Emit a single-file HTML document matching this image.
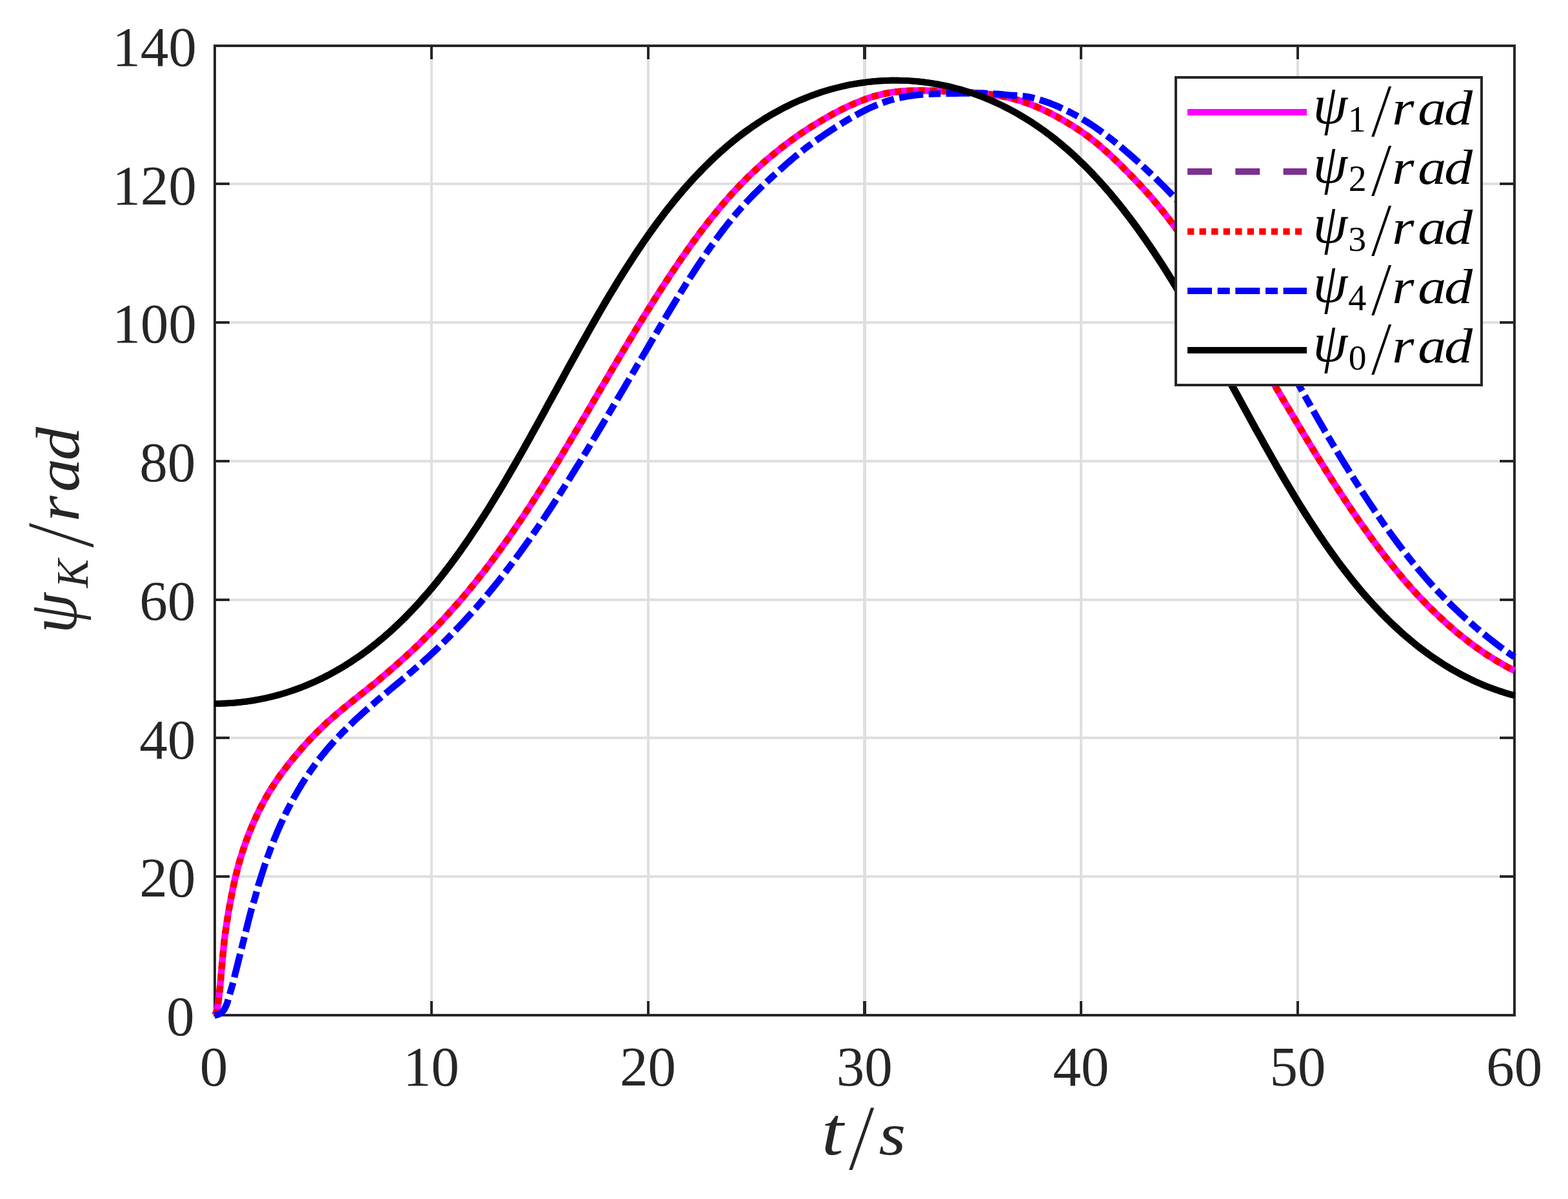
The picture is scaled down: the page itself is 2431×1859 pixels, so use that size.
<!DOCTYPE html>
<html lang="en">
<head>
<meta charset="utf-8">
<title>Heading angle tracking</title>
<style>
html,body{margin:0;padding:0;background:#fff;}
body{width:2431px;height:1859px;overflow:hidden;}
svg{display:block;}
text{white-space:pre;}
.tk{font-family:"Liberation Serif","DejaVu Serif",serif;font-size:87px;fill:#262626;}
.mi{font-family:"Liberation Serif","DejaVu Serif",serif;font-style:italic;}
.mr{font-family:"Liberation Serif","DejaVu Serif",serif;font-style:normal;}
</style>
</head>
<body>
<svg width="2431" height="1859" viewBox="0 0 2431 1859">
<rect x="0" y="0" width="2431" height="1859" fill="#ffffff"/>
<g fill="#dfdfdf" shape-rendering="crispEdges">
<rect x="667" y="93" width="4" height="1458"/>
<rect x="1003" y="93" width="4" height="1458"/>
<rect x="1338" y="93" width="5" height="1458"/>
<rect x="1674" y="93" width="4" height="1458"/>
<rect x="2010" y="93" width="4" height="1458"/>
<rect x="357" y="1357" width="1967" height="4"/>
<rect x="357" y="1142" width="1967" height="4"/>
<rect x="357" y="928" width="1967" height="4"/>
<rect x="357" y="713" width="1967" height="4"/>
<rect x="357" y="498" width="1967" height="4"/>
<rect x="357" y="283" width="1967" height="4"/>
</g>
<g fill="#262626" shape-rendering="crispEdges">
<rect x="331" y="69" width="2019" height="4"/>
<rect x="331" y="1572" width="2019" height="4"/>
<rect x="331" y="69" width="4" height="1507"/>
<rect x="2346" y="69" width="4" height="1507"/>
<rect x="667" y="1552" width="4" height="20"/>
<rect x="667" y="73" width="4" height="19"/>
<rect x="1003" y="1552" width="4" height="20"/>
<rect x="1003" y="73" width="4" height="19"/>
<rect x="1338" y="1552" width="5" height="20"/>
<rect x="1338" y="73" width="5" height="19"/>
<rect x="1674" y="1552" width="4" height="20"/>
<rect x="1674" y="73" width="4" height="19"/>
<rect x="2010" y="1552" width="4" height="20"/>
<rect x="2010" y="73" width="4" height="19"/>
<rect x="335" y="1357" width="21" height="4"/>
<rect x="2325" y="1357" width="21" height="4"/>
<rect x="335" y="1142" width="21" height="4"/>
<rect x="2325" y="1142" width="21" height="4"/>
<rect x="335" y="928" width="21" height="4"/>
<rect x="2325" y="928" width="21" height="4"/>
<rect x="335" y="713" width="21" height="4"/>
<rect x="2325" y="713" width="21" height="4"/>
<rect x="335" y="498" width="21" height="4"/>
<rect x="2325" y="498" width="21" height="4"/>
<rect x="335" y="283" width="21" height="4"/>
<rect x="2325" y="283" width="21" height="4"/>
</g>
<g fill="none" stroke-width="10.4" stroke-linejoin="round" stroke-linecap="butt">
<path stroke="#ff00ff" d="M333.0,1574.0 L333.0,1574.0 L333.1,1573.9 L333.2,1573.9 L333.3,1573.7 L333.5,1573.5 L333.7,1573.3 L333.9,1572.9 L334.1,1572.4 L334.4,1571.8 L334.6,1571.1 L335.0,1570.2 L335.3,1569.1 L335.6,1567.9 L336.0,1566.6 L336.4,1565.1 L336.8,1563.3 L337.3,1561.0 L337.7,1558.2 L338.2,1554.9 L338.7,1551.1 L339.3,1546.9 L339.8,1542.2 L340.4,1537.3 L341.0,1532.0 L341.6,1525.6 L342.2,1518.3 L342.8,1510.7 L343.5,1503.2 L344.2,1495.5 L344.9,1487.7 L345.6,1480.0 L346.4,1472.2 L347.1,1464.6 L347.9,1457.6 L348.7,1451.2 L349.5,1445.1 L350.4,1439.2 L351.2,1433.3 L352.1,1427.5 L353.0,1421.8 L353.9,1416.3 L354.8,1410.8 L355.8,1405.4 L356.7,1400.2 L357.7,1395.1 L358.7,1390.0 L359.7,1384.8 L360.7,1379.4 L361.8,1374.3 L362.9,1369.4 L363.9,1364.6 L365.0,1359.9 L366.2,1355.3 L367.3,1350.8 L368.5,1346.4 L369.6,1342.0 L370.8,1337.7 L372.0,1333.5 L373.2,1329.4 L374.5,1325.4 L375.7,1321.5 L377.0,1317.5 L378.3,1313.7 L379.6,1309.9 L380.9,1306.1 L382.2,1302.5 L383.6,1298.8 L384.9,1295.2 L386.3,1291.7 L387.7,1288.2 L389.1,1284.7 L390.6,1281.2 L392.0,1277.8 L393.5,1274.4 L395.0,1271.1 L396.5,1267.8 L398.0,1264.5 L399.5,1261.3 L401.0,1258.1 L402.6,1254.9 L404.2,1251.8 L405.8,1248.7 L407.4,1245.6 L409.0,1242.6 L410.6,1239.6 L412.3,1236.7 L413.9,1233.8 L415.6,1230.9 L417.3,1228.0 L419.0,1225.2 L420.8,1222.5 L422.5,1219.7 L424.3,1217.0 L426.0,1214.3 L427.8,1211.7 L429.6,1209.0 L431.4,1206.4 L433.3,1203.8 L435.1,1201.2 L437.0,1198.7 L438.9,1196.1 L440.8,1193.6 L442.7,1191.1 L444.6,1188.6 L446.5,1186.1 L448.5,1183.6 L450.5,1181.2 L452.4,1178.7 L454.4,1176.3 L456.4,1173.8 L458.5,1171.4 L460.5,1169.0 L462.6,1166.6 L464.6,1164.2 L466.7,1161.8 L468.8,1159.4 L470.9,1157.0 L473.1,1154.7 L475.2,1152.3 L477.4,1150.0 L479.6,1147.6 L481.7,1145.3 L483.9,1143.0 L486.2,1140.7 L488.4,1138.4 L490.6,1136.1 L492.9,1133.9 L495.2,1131.6 L497.5,1129.4 L499.8,1127.2 L502.1,1125.0 L504.4,1122.8 L506.7,1120.6 L509.1,1118.4 L511.5,1116.3 L513.9,1114.2 L516.3,1112.1 L518.7,1110.0 L521.1,1107.9 L523.5,1105.8 L526.0,1103.8 L528.5,1101.7 L531.0,1099.7 L533.5,1097.6 L536.0,1095.6 L538.5,1093.5 L541.0,1091.5 L543.6,1089.5 L546.2,1087.4 L548.7,1085.4 L551.3,1083.3 L553.9,1081.2 L556.6,1079.1 L559.2,1077.0 L561.9,1074.9 L564.5,1072.8 L567.2,1070.7 L569.9,1068.5 L572.6,1066.3 L575.3,1064.1 L578.1,1061.9 L580.8,1059.7 L583.6,1057.4 L586.3,1055.1 L589.1,1052.8 L591.9,1050.4 L594.7,1048.0 L597.6,1045.6 L600.4,1043.2 L603.3,1040.7 L606.1,1038.3 L609.0,1035.8 L611.9,1033.2 L614.8,1030.7 L617.7,1028.1 L620.7,1025.5 L623.6,1022.8 L626.6,1020.2 L629.6,1017.5 L632.5,1014.7 L635.5,1012.0 L638.6,1009.1 L641.6,1006.3 L644.6,1003.4 L647.7,1000.5 L650.8,997.5 L653.8,994.6 L656.9,991.5 L660.0,988.4 L663.2,985.3 L666.3,982.2 L669.4,978.9 L672.6,975.7 L675.8,972.4 L679.0,969.1 L682.2,965.7 L685.4,962.3 L688.6,958.8 L691.8,955.3 L695.1,951.7 L698.4,948.1 L701.6,944.5 L704.9,940.8 L708.2,937.0 L711.6,933.2 L714.9,929.4 L718.2,925.5 L721.6,921.5 L725.0,917.5 L728.3,913.4 L731.7,909.3 L735.1,905.1 L738.6,900.8 L742.0,896.5 L745.4,892.2 L748.9,887.8 L752.4,883.3 L755.9,878.7 L759.4,874.1 L762.9,869.4 L766.4,864.7 L769.9,859.9 L773.5,855.0 L777.0,850.1 L780.6,845.1 L784.2,840.0 L787.8,834.9 L791.4,829.7 L795.0,824.5 L798.7,819.1 L802.3,813.8 L806.0,808.3 L809.7,802.8 L813.4,797.3 L817.1,791.6 L820.8,786.0 L824.5,780.2 L828.2,774.4 L832.0,768.6 L835.8,762.6 L839.5,756.7 L843.3,750.6 L847.1,744.5 L850.9,738.4 L854.8,732.2 L858.6,726.0 L862.5,719.7 L866.3,713.3 L870.2,706.9 L874.1,700.4 L878.0,693.9 L881.9,687.3 L885.8,680.7 L889.8,674.1 L893.7,667.4 L897.7,660.7 L901.7,653.9 L905.7,647.1 L909.7,640.3 L913.7,633.4 L917.7,626.5 L921.7,619.6 L925.8,612.7 L929.8,605.7 L933.9,598.7 L938.0,591.8 L942.1,584.8 L946.2,577.7 L950.3,570.7 L954.5,563.7 L958.6,556.7 L962.8,549.7 L967.0,542.6 L971.2,535.6 L975.4,528.6 L979.6,521.6 L983.8,514.6 L988.0,507.6 L992.3,500.6 L996.5,493.7 L1000.8,486.8 L1005.1,479.8 L1009.4,473.0 L1013.7,466.1 L1018.0,459.3 L1022.3,452.5 L1026.7,445.7 L1031.0,439.0 L1035.4,432.3 L1039.8,425.7 L1044.2,419.1 L1048.6,412.6 L1053.0,406.1 L1057.4,399.6 L1061.9,393.2 L1066.3,386.9 L1070.8,380.6 L1075.3,374.4 L1079.8,368.3 L1084.3,362.2 L1088.8,356.2 L1093.3,350.3 L1097.8,344.5 L1102.4,338.7 L1107.0,333.0 L1111.5,327.4 L1116.1,321.9 L1120.7,316.5 L1125.3,311.1 L1129.9,305.9 L1134.6,300.7 L1139.2,295.7 L1143.9,290.7 L1148.5,285.9 L1153.2,281.1 L1157.9,276.4 L1162.6,271.8 L1167.3,267.3 L1172.1,262.9 L1176.8,258.5 L1181.6,254.2 L1186.3,250.0 L1191.1,245.9 L1195.9,241.9 L1200.7,237.9 L1205.5,234.0 L1210.3,230.2 L1215.2,226.4 L1220.0,222.7 L1224.9,219.1 L1229.7,215.6 L1234.6,212.1 L1239.5,208.7 L1244.4,205.4 L1249.3,202.1 L1254.3,198.9 L1259.2,195.7 L1264.2,192.7 L1269.1,189.7 L1274.1,186.7 L1279.1,183.8 L1284.1,180.9 L1289.1,178.1 L1294.1,175.4 L1299.2,172.8 L1304.2,170.2 L1309.3,167.7 L1314.3,165.3 L1319.4,162.9 L1324.5,160.7 L1329.6,158.5 L1334.7,156.5 L1339.9,154.5 L1345.0,152.7 L1350.1,150.9 L1355.3,149.3 L1360.5,147.9 L1365.7,146.6 L1370.9,145.4 L1376.1,144.3 L1381.3,143.4 L1386.5,142.7 L1391.8,142.1 L1397.0,141.6 L1402.3,141.2 L1407.6,140.9 L1412.9,140.7 L1418.2,140.5 L1423.5,140.5 L1428.8,140.5 L1434.2,140.5 L1439.5,140.6 L1444.9,140.7 L1450.2,140.8 L1455.6,141.0 L1461.0,141.2 L1466.4,141.4 L1471.8,141.6 L1477.3,141.8 L1482.7,142.1 L1488.2,142.3 L1493.6,142.6 L1499.1,142.9 L1504.6,143.2 L1510.1,143.6 L1515.6,144.1 L1521.1,144.6 L1526.6,145.2 L1532.2,145.8 L1537.7,146.6 L1543.3,147.4 L1548.9,148.3 L1554.5,149.3 L1560.1,150.5 L1565.7,151.8 L1571.3,153.2 L1576.9,154.7 L1582.6,156.5 L1588.2,158.3 L1593.9,160.4 L1599.6,162.6 L1605.3,164.9 L1611.0,167.3 L1616.7,169.9 L1622.4,172.6 L1628.2,175.5 L1633.9,178.4 L1639.7,181.5 L1645.4,184.8 L1651.2,188.1 L1657.0,191.6 L1662.8,195.2 L1668.6,198.9 L1674.4,202.8 L1680.3,206.8 L1686.1,211.0 L1692.0,215.5 L1697.9,220.1 L1703.8,225.0 L1709.6,230.1 L1715.6,235.3 L1721.5,240.7 L1727.4,246.3 L1733.3,252.0 L1739.3,257.8 L1745.2,263.8 L1751.2,269.9 L1757.2,276.0 L1763.2,282.3 L1769.2,288.6 L1775.2,295.2 L1781.3,301.9 L1787.3,308.9 L1793.3,316.1 L1799.4,323.4 L1805.5,331.0 L1811.6,338.8 L1817.7,346.8 L1823.8,355.0 L1829.9,363.4 L1836.0,372.0 L1842.2,380.7 L1848.3,389.6 L1854.5,398.6 L1860.6,407.9 L1866.8,417.2 L1873.0,426.7 L1879.2,436.3 L1885.4,446.1 L1891.7,456.0 L1897.9,466.0 L1904.2,476.1 L1910.4,486.3 L1916.7,496.7 L1923.0,507.1 L1929.3,517.6 L1935.6,528.2 L1941.9,538.8 L1948.2,549.5 L1954.6,560.3 L1960.9,571.0 L1967.3,581.9 L1973.7,592.7 L1980.0,603.6 L1986.4,614.5 L1992.8,625.3 L1999.3,636.2 L2005.7,647.0 L2012.1,657.9 L2018.6,668.7 L2025.0,679.4 L2031.5,690.1 L2038.0,700.7 L2044.5,711.3 L2051.0,721.8 L2057.5,732.2 L2064.0,742.5 L2070.6,752.7 L2077.1,762.9 L2083.7,772.9 L2090.3,782.8 L2096.8,792.6 L2103.4,802.2 L2110.0,811.8 L2116.6,821.1 L2123.3,830.4 L2129.9,839.5 L2136.6,848.5 L2143.2,857.3 L2149.9,865.9 L2156.6,874.4 L2163.3,882.7 L2170.0,890.8 L2176.7,898.8 L2183.4,906.5 L2190.1,914.1 L2196.9,921.5 L2203.6,928.6 L2210.4,935.6 L2217.2,942.5 L2224.0,949.1 L2230.8,955.6 L2237.6,961.9 L2244.4,968.1 L2251.2,974.1 L2258.1,979.9 L2264.9,985.5 L2271.8,991.0 L2278.7,996.3 L2285.5,1001.4 L2292.4,1006.4 L2299.3,1011.2 L2306.3,1015.8 L2313.2,1020.2 L2320.1,1024.5 L2327.1,1028.6 L2334.0,1032.5 L2341.0,1036.3 L2348.0,1039.9"/>
<path stroke="#ff0000" stroke-dasharray="10.2 8.05" d="M333.0,1574.0 L333.0,1574.0 L333.1,1573.9 L333.2,1573.9 L333.3,1573.7 L333.5,1573.5 L333.7,1573.3 L333.9,1572.9 L334.1,1572.4 L334.4,1571.8 L334.6,1571.1 L335.0,1570.2 L335.3,1569.1 L335.6,1567.9 L336.0,1566.6 L336.4,1565.1 L336.8,1563.3 L337.3,1561.0 L337.7,1558.2 L338.2,1554.9 L338.7,1551.1 L339.3,1546.9 L339.8,1542.2 L340.4,1537.3 L341.0,1532.0 L341.6,1525.6 L342.2,1518.3 L342.8,1510.7 L343.5,1503.2 L344.2,1495.5 L344.9,1487.7 L345.6,1480.0 L346.4,1472.2 L347.1,1464.6 L347.9,1457.6 L348.7,1451.2 L349.5,1445.1 L350.4,1439.2 L351.2,1433.3 L352.1,1427.5 L353.0,1421.8 L353.9,1416.3 L354.8,1410.8 L355.8,1405.4 L356.7,1400.2 L357.7,1395.1 L358.7,1390.0 L359.7,1384.8 L360.7,1379.4 L361.8,1374.3 L362.9,1369.4 L363.9,1364.6 L365.0,1359.9 L366.2,1355.3 L367.3,1350.8 L368.5,1346.4 L369.6,1342.0 L370.8,1337.7 L372.0,1333.5 L373.2,1329.4 L374.5,1325.4 L375.7,1321.5 L377.0,1317.5 L378.3,1313.7 L379.6,1309.9 L380.9,1306.1 L382.2,1302.5 L383.6,1298.8 L384.9,1295.2 L386.3,1291.7 L387.7,1288.2 L389.1,1284.7 L390.6,1281.2 L392.0,1277.8 L393.5,1274.4 L395.0,1271.1 L396.5,1267.8 L398.0,1264.5 L399.5,1261.3 L401.0,1258.1 L402.6,1254.9 L404.2,1251.8 L405.8,1248.7 L407.4,1245.6 L409.0,1242.6 L410.6,1239.6 L412.3,1236.7 L413.9,1233.8 L415.6,1230.9 L417.3,1228.0 L419.0,1225.2 L420.8,1222.5 L422.5,1219.7 L424.3,1217.0 L426.0,1214.3 L427.8,1211.7 L429.6,1209.0 L431.4,1206.4 L433.3,1203.8 L435.1,1201.2 L437.0,1198.7 L438.9,1196.1 L440.8,1193.6 L442.7,1191.1 L444.6,1188.6 L446.5,1186.1 L448.5,1183.6 L450.5,1181.2 L452.4,1178.7 L454.4,1176.3 L456.4,1173.8 L458.5,1171.4 L460.5,1169.0 L462.6,1166.6 L464.6,1164.2 L466.7,1161.8 L468.8,1159.4 L470.9,1157.0 L473.1,1154.7 L475.2,1152.3 L477.4,1150.0 L479.6,1147.6 L481.7,1145.3 L483.9,1143.0 L486.2,1140.7 L488.4,1138.4 L490.6,1136.1 L492.9,1133.9 L495.2,1131.6 L497.5,1129.4 L499.8,1127.2 L502.1,1125.0 L504.4,1122.8 L506.7,1120.6 L509.1,1118.4 L511.5,1116.3 L513.9,1114.2 L516.3,1112.1 L518.7,1110.0 L521.1,1107.9 L523.5,1105.8 L526.0,1103.8 L528.5,1101.7 L531.0,1099.7 L533.5,1097.6 L536.0,1095.6 L538.5,1093.5 L541.0,1091.5 L543.6,1089.5 L546.2,1087.4 L548.7,1085.4 L551.3,1083.3 L553.9,1081.2 L556.6,1079.1 L559.2,1077.0 L561.9,1074.9 L564.5,1072.8 L567.2,1070.7 L569.9,1068.5 L572.6,1066.3 L575.3,1064.1 L578.1,1061.9 L580.8,1059.7 L583.6,1057.4 L586.3,1055.1 L589.1,1052.8 L591.9,1050.4 L594.7,1048.0 L597.6,1045.6 L600.4,1043.2 L603.3,1040.7 L606.1,1038.3 L609.0,1035.8 L611.9,1033.2 L614.8,1030.7 L617.7,1028.1 L620.7,1025.5 L623.6,1022.8 L626.6,1020.2 L629.6,1017.5 L632.5,1014.7 L635.5,1012.0 L638.6,1009.1 L641.6,1006.3 L644.6,1003.4 L647.7,1000.5 L650.8,997.5 L653.8,994.6 L656.9,991.5 L660.0,988.4 L663.2,985.3 L666.3,982.2 L669.4,978.9 L672.6,975.7 L675.8,972.4 L679.0,969.1 L682.2,965.7 L685.4,962.3 L688.6,958.8 L691.8,955.3 L695.1,951.7 L698.4,948.1 L701.6,944.5 L704.9,940.8 L708.2,937.0 L711.6,933.2 L714.9,929.4 L718.2,925.5 L721.6,921.5 L725.0,917.5 L728.3,913.4 L731.7,909.3 L735.1,905.1 L738.6,900.8 L742.0,896.5 L745.4,892.2 L748.9,887.8 L752.4,883.3 L755.9,878.7 L759.4,874.1 L762.9,869.4 L766.4,864.7 L769.9,859.9 L773.5,855.0 L777.0,850.1 L780.6,845.1 L784.2,840.0 L787.8,834.9 L791.4,829.7 L795.0,824.5 L798.7,819.1 L802.3,813.8 L806.0,808.3 L809.7,802.8 L813.4,797.3 L817.1,791.6 L820.8,786.0 L824.5,780.2 L828.2,774.4 L832.0,768.6 L835.8,762.6 L839.5,756.7 L843.3,750.6 L847.1,744.5 L850.9,738.4 L854.8,732.2 L858.6,726.0 L862.5,719.7 L866.3,713.3 L870.2,706.9 L874.1,700.4 L878.0,693.9 L881.9,687.3 L885.8,680.7 L889.8,674.1 L893.7,667.4 L897.7,660.7 L901.7,653.9 L905.7,647.1 L909.7,640.3 L913.7,633.4 L917.7,626.5 L921.7,619.6 L925.8,612.7 L929.8,605.7 L933.9,598.7 L938.0,591.8 L942.1,584.8 L946.2,577.7 L950.3,570.7 L954.5,563.7 L958.6,556.7 L962.8,549.7 L967.0,542.6 L971.2,535.6 L975.4,528.6 L979.6,521.6 L983.8,514.6 L988.0,507.6 L992.3,500.6 L996.5,493.7 L1000.8,486.8 L1005.1,479.8 L1009.4,473.0 L1013.7,466.1 L1018.0,459.3 L1022.3,452.5 L1026.7,445.7 L1031.0,439.0 L1035.4,432.3 L1039.8,425.7 L1044.2,419.1 L1048.6,412.6 L1053.0,406.1 L1057.4,399.6 L1061.9,393.2 L1066.3,386.9 L1070.8,380.6 L1075.3,374.4 L1079.8,368.3 L1084.3,362.2 L1088.8,356.2 L1093.3,350.3 L1097.8,344.5 L1102.4,338.7 L1107.0,333.0 L1111.5,327.4 L1116.1,321.9 L1120.7,316.5 L1125.3,311.1 L1129.9,305.9 L1134.6,300.7 L1139.2,295.7 L1143.9,290.7 L1148.5,285.9 L1153.2,281.1 L1157.9,276.4 L1162.6,271.8 L1167.3,267.3 L1172.1,262.9 L1176.8,258.5 L1181.6,254.2 L1186.3,250.0 L1191.1,245.9 L1195.9,241.9 L1200.7,237.9 L1205.5,234.0 L1210.3,230.2 L1215.2,226.4 L1220.0,222.7 L1224.9,219.1 L1229.7,215.6 L1234.6,212.1 L1239.5,208.7 L1244.4,205.4 L1249.3,202.1 L1254.3,198.9 L1259.2,195.7 L1264.2,192.7 L1269.1,189.7 L1274.1,186.7 L1279.1,183.8 L1284.1,180.9 L1289.1,178.1 L1294.1,175.4 L1299.2,172.8 L1304.2,170.2 L1309.3,167.7 L1314.3,165.3 L1319.4,162.9 L1324.5,160.7 L1329.6,158.5 L1334.7,156.5 L1339.9,154.5 L1345.0,152.7 L1350.1,150.9 L1355.3,149.3 L1360.5,147.9 L1365.7,146.6 L1370.9,145.4 L1376.1,144.3 L1381.3,143.4 L1386.5,142.7 L1391.8,142.1 L1397.0,141.6 L1402.3,141.2 L1407.6,140.9 L1412.9,140.7 L1418.2,140.5 L1423.5,140.5 L1428.8,140.5 L1434.2,140.5 L1439.5,140.6 L1444.9,140.7 L1450.2,140.8 L1455.6,141.0 L1461.0,141.2 L1466.4,141.4 L1471.8,141.6 L1477.3,141.8 L1482.7,142.1 L1488.2,142.3 L1493.6,142.6 L1499.1,142.9 L1504.6,143.2 L1510.1,143.6 L1515.6,144.1 L1521.1,144.6 L1526.6,145.2 L1532.2,145.8 L1537.7,146.6 L1543.3,147.4 L1548.9,148.3 L1554.5,149.3 L1560.1,150.5 L1565.7,151.8 L1571.3,153.2 L1576.9,154.7 L1582.6,156.5 L1588.2,158.3 L1593.9,160.4 L1599.6,162.6 L1605.3,164.9 L1611.0,167.3 L1616.7,169.9 L1622.4,172.6 L1628.2,175.5 L1633.9,178.4 L1639.7,181.5 L1645.4,184.8 L1651.2,188.1 L1657.0,191.6 L1662.8,195.2 L1668.6,198.9 L1674.4,202.8 L1680.3,206.8 L1686.1,211.0 L1692.0,215.5 L1697.9,220.1 L1703.8,225.0 L1709.6,230.1 L1715.6,235.3 L1721.5,240.7 L1727.4,246.3 L1733.3,252.0 L1739.3,257.8 L1745.2,263.8 L1751.2,269.9 L1757.2,276.0 L1763.2,282.3 L1769.2,288.6 L1775.2,295.2 L1781.3,301.9 L1787.3,308.9 L1793.3,316.1 L1799.4,323.4 L1805.5,331.0 L1811.6,338.8 L1817.7,346.8 L1823.8,355.0 L1829.9,363.4 L1836.0,372.0 L1842.2,380.7 L1848.3,389.6 L1854.5,398.6 L1860.6,407.9 L1866.8,417.2 L1873.0,426.7 L1879.2,436.3 L1885.4,446.1 L1891.7,456.0 L1897.9,466.0 L1904.2,476.1 L1910.4,486.3 L1916.7,496.7 L1923.0,507.1 L1929.3,517.6 L1935.6,528.2 L1941.9,538.8 L1948.2,549.5 L1954.6,560.3 L1960.9,571.0 L1967.3,581.9 L1973.7,592.7 L1980.0,603.6 L1986.4,614.5 L1992.8,625.3 L1999.3,636.2 L2005.7,647.0 L2012.1,657.9 L2018.6,668.7 L2025.0,679.4 L2031.5,690.1 L2038.0,700.7 L2044.5,711.3 L2051.0,721.8 L2057.5,732.2 L2064.0,742.5 L2070.6,752.7 L2077.1,762.9 L2083.7,772.9 L2090.3,782.8 L2096.8,792.6 L2103.4,802.2 L2110.0,811.8 L2116.6,821.1 L2123.3,830.4 L2129.9,839.5 L2136.6,848.5 L2143.2,857.3 L2149.9,865.9 L2156.6,874.4 L2163.3,882.7 L2170.0,890.8 L2176.7,898.8 L2183.4,906.5 L2190.1,914.1 L2196.9,921.5 L2203.6,928.6 L2210.4,935.6 L2217.2,942.5 L2224.0,949.1 L2230.8,955.6 L2237.6,961.9 L2244.4,968.1 L2251.2,974.1 L2258.1,979.9 L2264.9,985.5 L2271.8,991.0 L2278.7,996.3 L2285.5,1001.4 L2292.4,1006.4 L2299.3,1011.2 L2306.3,1015.8 L2313.2,1020.2 L2320.1,1024.5 L2327.1,1028.6 L2334.0,1032.5 L2341.0,1036.3 L2348.0,1039.9"/>
<path stroke="#0000ff" stroke-dasharray="37.5 8.4 18.7 8.4" stroke-dashoffset="3" d="M333.0,1574.0 L333.0,1574.0 L333.1,1574.0 L333.2,1574.0 L333.3,1574.0 L333.5,1574.0 L333.7,1574.0 L333.9,1573.9 L334.1,1573.9 L334.4,1573.9 L334.6,1573.8 L335.0,1573.8 L335.3,1573.7 L335.6,1573.6 L336.0,1573.5 L336.4,1573.4 L336.8,1573.3 L337.3,1573.1 L337.7,1572.9 L338.2,1572.8 L338.7,1572.6 L339.3,1572.4 L339.8,1572.1 L340.4,1571.9 L341.0,1571.5 L341.6,1571.1 L342.2,1570.7 L342.8,1570.2 L343.5,1569.7 L344.2,1569.0 L344.9,1568.4 L345.6,1567.6 L346.4,1566.7 L347.1,1565.7 L347.9,1564.5 L348.7,1563.1 L349.5,1561.5 L350.4,1559.7 L351.2,1557.8 L352.1,1555.6 L353.0,1552.5 L353.9,1549.0 L354.8,1545.8 L355.8,1542.7 L356.7,1539.6 L357.7,1536.4 L358.7,1533.1 L359.7,1529.6 L360.7,1525.7 L361.8,1521.6 L362.9,1517.2 L363.9,1512.8 L365.0,1508.3 L366.2,1503.8 L367.3,1499.3 L368.5,1494.7 L369.6,1490.0 L370.8,1485.3 L372.0,1480.5 L373.2,1475.6 L374.5,1470.7 L375.7,1465.6 L377.0,1460.6 L378.3,1455.4 L379.6,1450.2 L380.9,1444.9 L382.2,1439.7 L383.6,1434.3 L384.9,1428.9 L386.3,1423.4 L387.7,1418.0 L389.1,1412.7 L390.6,1407.5 L392.0,1402.6 L393.5,1397.9 L395.0,1393.0 L396.5,1387.8 L398.0,1381.9 L399.5,1376.5 L401.0,1371.2 L402.6,1366.1 L404.2,1361.0 L405.8,1356.0 L407.4,1351.0 L409.0,1346.0 L410.6,1341.1 L412.3,1336.2 L413.9,1331.3 L415.6,1326.6 L417.3,1321.9 L419.0,1317.2 L420.8,1312.6 L422.5,1308.1 L424.3,1303.6 L426.0,1299.2 L427.8,1294.9 L429.6,1290.6 L431.4,1286.3 L433.3,1282.1 L435.1,1278.0 L437.0,1273.9 L438.9,1269.8 L440.8,1265.8 L442.7,1261.8 L444.6,1257.9 L446.5,1254.1 L448.5,1250.3 L450.5,1246.5 L452.4,1242.7 L454.4,1239.1 L456.4,1235.4 L458.5,1231.8 L460.5,1228.3 L462.6,1224.7 L464.6,1221.3 L466.7,1217.8 L468.8,1214.4 L470.9,1211.1 L473.1,1207.7 L475.2,1204.5 L477.4,1201.2 L479.6,1198.0 L481.7,1194.8 L483.9,1191.7 L486.2,1188.6 L488.4,1185.5 L490.6,1182.5 L492.9,1179.5 L495.2,1176.6 L497.5,1173.6 L499.8,1170.8 L502.1,1167.9 L504.4,1165.1 L506.7,1162.3 L509.1,1159.5 L511.5,1156.8 L513.9,1154.1 L516.3,1151.4 L518.7,1148.7 L521.1,1146.1 L523.5,1143.5 L526.0,1140.9 L528.5,1138.3 L531.0,1135.7 L533.5,1133.2 L536.0,1130.7 L538.5,1128.2 L541.0,1125.7 L543.6,1123.2 L546.2,1120.7 L548.7,1118.3 L551.3,1115.8 L553.9,1113.4 L556.6,1111.0 L559.2,1108.6 L561.9,1106.2 L564.5,1103.8 L567.2,1101.4 L569.9,1099.0 L572.6,1096.6 L575.3,1094.2 L578.1,1091.9 L580.8,1089.5 L583.6,1087.1 L586.3,1084.7 L589.1,1082.4 L591.9,1080.0 L594.7,1077.6 L597.6,1075.2 L600.4,1072.9 L603.3,1070.5 L606.1,1068.1 L609.0,1065.7 L611.9,1063.3 L614.8,1060.9 L617.7,1058.5 L620.7,1056.1 L623.6,1053.6 L626.6,1051.2 L629.6,1048.7 L632.5,1046.2 L635.5,1043.6 L638.6,1041.1 L641.6,1038.5 L644.6,1035.9 L647.7,1033.2 L650.8,1030.5 L653.8,1027.8 L656.9,1025.0 L660.0,1022.2 L663.2,1019.4 L666.3,1016.5 L669.4,1013.6 L672.6,1010.6 L675.8,1007.6 L679.0,1004.5 L682.2,1001.4 L685.4,998.3 L688.6,995.1 L691.8,991.9 L695.1,988.6 L698.4,985.3 L701.6,981.9 L704.9,978.5 L708.2,975.1 L711.6,971.6 L714.9,968.1 L718.2,964.5 L721.6,960.8 L725.0,957.1 L728.3,953.4 L731.7,949.6 L735.1,945.8 L738.6,941.9 L742.0,937.9 L745.4,933.9 L748.9,929.9 L752.4,925.8 L755.9,921.6 L759.4,917.4 L762.9,913.1 L766.4,908.8 L769.9,904.4 L773.5,899.9 L777.0,895.4 L780.6,890.8 L784.2,886.2 L787.8,881.4 L791.4,876.7 L795.0,871.9 L798.7,867.0 L802.3,862.0 L806.0,857.0 L809.7,851.9 L813.4,846.8 L817.1,841.6 L820.8,836.4 L824.5,831.1 L828.2,825.7 L832.0,820.2 L835.8,814.7 L839.5,809.2 L843.3,803.6 L847.1,797.9 L850.9,792.1 L854.8,786.3 L858.6,780.4 L862.5,774.5 L866.3,768.5 L870.2,762.4 L874.1,756.3 L878.0,750.1 L881.9,743.9 L885.8,737.6 L889.8,731.2 L893.7,724.8 L897.7,718.4 L901.7,711.8 L905.7,705.3 L909.7,698.7 L913.7,692.0 L917.7,685.3 L921.7,678.6 L925.8,671.8 L929.8,665.0 L933.9,658.2 L938.0,651.3 L942.1,644.4 L946.2,637.5 L950.3,630.5 L954.5,623.5 L958.6,616.5 L962.8,609.4 L967.0,602.3 L971.2,595.2 L975.4,588.1 L979.6,580.9 L983.8,573.8 L988.0,566.5 L992.3,559.3 L996.5,552.1 L1000.8,544.8 L1005.1,537.5 L1009.4,530.2 L1013.7,522.9 L1018.0,515.6 L1022.3,508.2 L1026.7,500.9 L1031.0,493.6 L1035.4,486.3 L1039.8,479.0 L1044.2,471.7 L1048.6,464.5 L1053.0,457.3 L1057.4,450.2 L1061.9,443.1 L1066.3,436.0 L1070.8,429.0 L1075.3,422.1 L1079.8,415.2 L1084.3,408.4 L1088.8,401.7 L1093.3,395.0 L1097.8,388.4 L1102.4,382.0 L1107.0,375.6 L1111.5,369.3 L1116.1,363.1 L1120.7,357.0 L1125.3,351.1 L1129.9,345.2 L1134.6,339.5 L1139.2,333.9 L1143.9,328.4 L1148.5,323.0 L1153.2,317.8 L1157.9,312.7 L1162.6,307.7 L1167.3,302.8 L1172.1,298.1 L1176.8,293.4 L1181.6,288.8 L1186.3,284.3 L1191.1,279.9 L1195.9,275.4 L1200.7,271.0 L1205.5,266.6 L1210.3,262.3 L1215.2,258.0 L1220.0,253.7 L1224.9,249.5 L1229.7,245.4 L1234.6,241.3 L1239.5,237.3 L1244.4,233.4 L1249.3,229.5 L1254.3,225.8 L1259.2,222.2 L1264.2,218.6 L1269.1,215.1 L1274.1,211.7 L1279.1,208.3 L1284.1,204.9 L1289.1,201.6 L1294.1,198.3 L1299.2,195.1 L1304.2,191.9 L1309.3,188.8 L1314.3,185.8 L1319.4,182.8 L1324.5,179.9 L1329.6,177.1 L1334.7,174.3 L1339.9,171.7 L1345.0,169.2 L1350.1,166.7 L1355.3,164.4 L1360.5,162.2 L1365.7,160.2 L1370.9,158.3 L1376.1,156.5 L1381.3,155.0 L1386.5,153.5 L1391.8,152.2 L1397.0,151.1 L1402.3,150.1 L1407.6,149.2 L1412.9,148.4 L1418.2,147.7 L1423.5,147.1 L1428.8,146.6 L1434.2,146.2 L1439.5,145.9 L1444.9,145.6 L1450.2,145.4 L1455.6,145.2 L1461.0,145.1 L1466.4,145.0 L1471.8,144.9 L1477.3,144.8 L1482.7,144.7 L1488.2,144.6 L1493.6,144.5 L1499.1,144.5 L1504.6,144.5 L1510.1,144.5 L1515.6,144.6 L1521.1,144.7 L1526.6,144.8 L1532.2,145.0 L1537.7,145.3 L1543.3,145.6 L1548.9,146.0 L1554.5,146.5 L1560.1,147.1 L1565.7,147.6 L1571.3,148.0 L1576.9,148.3 L1582.6,148.7 L1588.2,149.3 L1593.9,150.2 L1599.6,151.3 L1605.3,152.8 L1611.0,154.4 L1616.7,156.2 L1622.4,158.1 L1628.2,160.2 L1633.9,162.5 L1639.7,164.9 L1645.4,167.4 L1651.2,170.1 L1657.0,173.0 L1662.8,176.0 L1668.6,179.1 L1674.4,182.4 L1680.3,185.9 L1686.1,189.5 L1692.0,193.3 L1697.9,197.3 L1703.8,201.4 L1709.6,205.7 L1715.6,210.1 L1721.5,214.6 L1727.4,219.3 L1733.3,224.1 L1739.3,229.1 L1745.2,234.1 L1751.2,239.3 L1757.2,244.5 L1763.2,249.9 L1769.2,255.4 L1775.2,260.9 L1781.3,266.6 L1787.3,272.3 L1793.3,278.1 L1799.4,284.1 L1805.5,290.1 L1811.6,296.3 L1817.7,302.6 L1823.8,309.1 L1829.9,315.6 L1836.0,322.3 L1842.2,329.2 L1848.3,336.3 L1854.5,343.5 L1860.6,350.9 L1866.8,358.5 L1873.0,366.4 L1879.2,374.4 L1885.4,382.7 L1891.7,391.3 L1897.9,400.1 L1904.2,409.1 L1910.4,418.5 L1916.7,428.1 L1923.0,438.0 L1929.3,448.2 L1935.6,458.6 L1941.9,469.2 L1948.2,480.0 L1954.6,491.0 L1960.9,502.1 L1967.3,513.4 L1973.7,524.7 L1980.0,536.2 L1986.4,547.7 L1992.8,559.3 L1999.3,570.9 L2005.7,582.5 L2012.1,594.1 L2018.6,605.7 L2025.0,617.3 L2031.5,628.8 L2038.0,640.3 L2044.5,651.7 L2051.0,662.9 L2057.5,674.1 L2064.0,685.2 L2070.6,696.1 L2077.1,707.0 L2083.7,717.7 L2090.3,728.3 L2096.8,738.9 L2103.4,749.3 L2110.0,759.6 L2116.6,769.8 L2123.3,779.8 L2129.9,789.7 L2136.6,799.5 L2143.2,809.2 L2149.9,818.7 L2156.6,828.0 L2163.3,837.1 L2170.0,846.1 L2176.7,854.9 L2183.4,863.5 L2190.1,871.9 L2196.9,880.2 L2203.6,888.2 L2210.4,896.1 L2217.2,903.7 L2224.0,911.2 L2230.8,918.5 L2237.6,925.5 L2244.4,932.4 L2251.2,939.2 L2258.1,945.8 L2264.9,952.2 L2271.8,958.5 L2278.7,964.6 L2285.5,970.6 L2292.4,976.5 L2299.3,982.2 L2306.3,987.8 L2313.2,993.3 L2320.1,998.6 L2327.1,1003.8 L2334.0,1008.9 L2341.0,1013.9 L2348.0,1018.8"/>
<path stroke="#000000" stroke-width="9.7" transform="translate(-0.9,0)" d="M333.0,1090.9 L333.0,1090.9 L333.1,1090.9 L333.2,1090.9 L333.3,1090.9 L333.5,1090.9 L333.7,1090.9 L333.9,1090.9 L334.1,1090.9 L334.4,1090.9 L334.6,1090.9 L335.0,1090.9 L335.3,1090.9 L335.6,1090.9 L336.0,1090.9 L336.4,1090.9 L336.8,1090.9 L337.3,1090.9 L337.7,1090.9 L338.2,1090.9 L338.7,1090.8 L339.3,1090.8 L339.8,1090.8 L340.4,1090.8 L341.0,1090.8 L341.6,1090.8 L342.2,1090.8 L342.8,1090.8 L343.5,1090.7 L344.2,1090.7 L344.9,1090.7 L345.6,1090.7 L346.4,1090.6 L347.1,1090.6 L347.9,1090.6 L348.7,1090.6 L349.5,1090.5 L350.4,1090.5 L351.2,1090.4 L352.1,1090.4 L353.0,1090.3 L353.9,1090.3 L354.8,1090.2 L355.8,1090.2 L356.7,1090.1 L357.7,1090.1 L358.7,1090.0 L359.7,1089.9 L360.7,1089.8 L361.8,1089.8 L362.9,1089.7 L363.9,1089.6 L365.0,1089.5 L366.2,1089.4 L367.3,1089.3 L368.5,1089.2 L369.6,1089.1 L370.8,1088.9 L372.0,1088.8 L373.2,1088.7 L374.5,1088.5 L375.7,1088.4 L377.0,1088.2 L378.3,1088.1 L379.6,1087.9 L380.9,1087.8 L382.2,1087.6 L383.6,1087.4 L384.9,1087.2 L386.3,1087.0 L387.7,1086.8 L389.1,1086.6 L390.6,1086.4 L392.0,1086.1 L393.5,1085.9 L395.0,1085.6 L396.5,1085.4 L398.0,1085.1 L399.5,1084.8 L401.0,1084.5 L402.6,1084.2 L404.2,1083.9 L405.8,1083.6 L407.4,1083.3 L409.0,1083.0 L410.6,1082.6 L412.3,1082.2 L413.9,1081.9 L415.6,1081.5 L417.3,1081.1 L419.0,1080.7 L420.8,1080.3 L422.5,1079.8 L424.3,1079.4 L426.0,1078.9 L427.8,1078.5 L429.6,1078.0 L431.4,1077.5 L433.3,1077.0 L435.1,1076.5 L437.0,1075.9 L438.9,1075.4 L440.8,1074.8 L442.7,1074.2 L444.6,1073.6 L446.5,1073.0 L448.5,1072.3 L450.5,1071.7 L452.4,1071.0 L454.4,1070.3 L456.4,1069.6 L458.5,1068.9 L460.5,1068.2 L462.6,1067.4 L464.6,1066.7 L466.7,1065.9 L468.8,1065.0 L470.9,1064.2 L473.1,1063.4 L475.2,1062.5 L477.4,1061.6 L479.6,1060.7 L481.7,1059.7 L483.9,1058.8 L486.2,1057.8 L488.4,1056.8 L490.6,1055.8 L492.9,1054.7 L495.2,1053.6 L497.5,1052.5 L499.8,1051.4 L502.1,1050.3 L504.4,1049.1 L506.7,1047.9 L509.1,1046.7 L511.5,1045.4 L513.9,1044.1 L516.3,1042.8 L518.7,1041.5 L521.1,1040.1 L523.5,1038.7 L526.0,1037.3 L528.5,1035.9 L531.0,1034.4 L533.5,1032.9 L536.0,1031.3 L538.5,1029.7 L541.0,1028.1 L543.6,1026.5 L546.2,1024.8 L548.7,1023.1 L551.3,1021.3 L553.9,1019.5 L556.6,1017.7 L559.2,1015.9 L561.9,1014.0 L564.5,1012.0 L567.2,1010.1 L569.9,1008.1 L572.6,1006.0 L575.3,1003.9 L578.1,1001.8 L580.8,999.6 L583.6,997.4 L586.3,995.1 L589.1,992.8 L591.9,990.5 L594.7,988.1 L597.6,985.7 L600.4,983.2 L603.3,980.7 L606.1,978.1 L609.0,975.5 L611.9,972.8 L614.8,970.1 L617.7,967.3 L620.7,964.5 L623.6,961.6 L626.6,958.7 L629.6,955.7 L632.5,952.7 L635.5,949.6 L638.6,946.4 L641.6,943.2 L644.6,940.0 L647.7,936.7 L650.8,933.3 L653.8,929.8 L656.9,926.3 L660.0,922.8 L663.2,919.2 L666.3,915.5 L669.4,911.8 L672.6,908.0 L675.8,904.1 L679.0,900.2 L682.2,896.2 L685.4,892.1 L688.6,888.0 L691.8,883.8 L695.1,879.5 L698.4,875.2 L701.6,870.8 L704.9,866.3 L708.2,861.8 L711.6,857.2 L714.9,852.5 L718.2,847.7 L721.6,842.9 L725.0,838.0 L728.3,833.1 L731.7,828.0 L735.1,822.9 L738.6,817.7 L742.0,812.5 L745.4,807.2 L748.9,801.8 L752.4,796.3 L755.9,790.8 L759.4,785.2 L762.9,779.5 L766.4,773.8 L769.9,768.0 L773.5,762.1 L777.0,756.2 L780.6,750.2 L784.2,744.1 L787.8,738.0 L791.4,731.8 L795.0,725.5 L798.7,719.2 L802.3,712.8 L806.0,706.4 L809.7,699.9 L813.4,693.3 L817.1,686.7 L820.8,680.1 L824.5,673.4 L828.2,666.7 L832.0,659.9 L835.8,653.0 L839.5,646.2 L843.3,639.3 L847.1,632.3 L850.9,625.3 L854.8,618.3 L858.6,611.3 L862.5,604.3 L866.3,597.2 L870.2,590.1 L874.1,583.0 L878.0,575.8 L881.9,568.7 L885.8,561.6 L889.8,554.4 L893.7,547.3 L897.7,540.1 L901.7,533.0 L905.7,525.9 L909.7,518.8 L913.7,511.7 L917.7,504.6 L921.7,497.5 L925.8,490.5 L929.8,483.4 L933.9,476.5 L938.0,469.5 L942.1,462.6 L946.2,455.7 L950.3,448.9 L954.5,442.1 L958.6,435.3 L962.8,428.6 L967.0,421.9 L971.2,415.3 L975.4,408.8 L979.6,402.3 L983.8,395.9 L988.0,389.5 L992.3,383.2 L996.5,376.9 L1000.8,370.7 L1005.1,364.6 L1009.4,358.6 L1013.7,352.6 L1018.0,346.7 L1022.3,340.9 L1026.7,335.1 L1031.0,329.4 L1035.4,323.8 L1039.8,318.3 L1044.2,312.8 L1048.6,307.4 L1053.0,302.1 L1057.4,296.9 L1061.9,291.8 L1066.3,286.7 L1070.8,281.7 L1075.3,276.8 L1079.8,272.0 L1084.3,267.3 L1088.8,262.6 L1093.3,258.1 L1097.8,253.6 L1102.4,249.1 L1107.0,244.8 L1111.5,240.6 L1116.1,236.4 L1120.7,232.3 L1125.3,228.3 L1129.9,224.4 L1134.6,220.5 L1139.2,216.8 L1143.9,213.1 L1148.5,209.5 L1153.2,206.0 L1157.9,202.5 L1162.6,199.2 L1167.3,195.9 L1172.1,192.7 L1176.8,189.5 L1181.6,186.5 L1186.3,183.5 L1191.1,180.6 L1195.9,177.8 L1200.7,175.0 L1205.5,172.4 L1210.3,169.8 L1215.2,167.2 L1220.0,164.8 L1224.9,162.4 L1229.7,160.1 L1234.6,157.9 L1239.5,155.7 L1244.4,153.7 L1249.3,151.7 L1254.3,149.7 L1259.2,147.9 L1264.2,146.1 L1269.1,144.4 L1274.1,142.7 L1279.1,141.2 L1284.1,139.7 L1289.1,138.2 L1294.1,136.9 L1299.2,135.6 L1304.2,134.4 L1309.3,133.2 L1314.3,132.1 L1319.4,131.1 L1324.5,130.2 L1329.6,129.4 L1334.7,128.6 L1339.9,127.9 L1345.0,127.2 L1350.1,126.6 L1355.3,126.1 L1360.5,125.7 L1365.7,125.4 L1370.9,125.1 L1376.1,124.9 L1381.3,124.7 L1386.5,124.7 L1391.8,124.7 L1397.0,124.8 L1402.3,125.0 L1407.6,125.2 L1412.9,125.5 L1418.2,125.9 L1423.5,126.4 L1428.8,126.9 L1434.2,127.6 L1439.5,128.3 L1444.9,129.1 L1450.2,130.0 L1455.6,130.9 L1461.0,132.0 L1466.4,133.1 L1471.8,134.3 L1477.3,135.7 L1482.7,137.1 L1488.2,138.5 L1493.6,140.1 L1499.1,141.8 L1504.6,143.6 L1510.1,145.4 L1515.6,147.4 L1521.1,149.4 L1526.6,151.6 L1532.2,153.9 L1537.7,156.2 L1543.3,158.7 L1548.9,161.3 L1554.5,164.0 L1560.1,166.8 L1565.7,169.7 L1571.3,172.7 L1576.9,175.9 L1582.6,179.2 L1588.2,182.6 L1593.9,186.1 L1599.6,189.7 L1605.3,193.5 L1611.0,197.4 L1616.7,201.4 L1622.4,205.6 L1628.2,209.9 L1633.9,214.4 L1639.7,219.0 L1645.4,223.8 L1651.2,228.7 L1657.0,233.7 L1662.8,238.9 L1668.6,244.3 L1674.4,249.9 L1680.3,255.6 L1686.1,261.4 L1692.0,267.4 L1697.9,273.7 L1703.8,280.0 L1709.6,286.6 L1715.6,293.3 L1721.5,300.2 L1727.4,307.3 L1733.3,314.6 L1739.3,322.0 L1745.2,329.7 L1751.2,337.5 L1757.2,345.5 L1763.2,353.7 L1769.2,362.1 L1775.2,370.6 L1781.3,379.4 L1787.3,388.3 L1793.3,397.4 L1799.4,406.7 L1805.5,416.2 L1811.6,425.8 L1817.7,435.6 L1823.8,445.6 L1829.9,455.7 L1836.0,466.0 L1842.2,476.4 L1848.3,487.0 L1854.5,497.7 L1860.6,508.5 L1866.8,519.4 L1873.0,530.5 L1879.2,541.6 L1885.4,552.8 L1891.7,564.1 L1897.9,575.5 L1904.2,586.9 L1910.4,598.4 L1916.7,609.9 L1923.0,621.4 L1929.3,632.9 L1935.6,644.4 L1941.9,655.9 L1948.2,667.3 L1954.6,678.7 L1960.9,690.1 L1967.3,701.4 L1973.7,712.6 L1980.0,723.8 L1986.4,734.8 L1992.8,745.7 L1999.3,756.5 L2005.7,767.2 L2012.1,777.7 L2018.6,788.2 L2025.0,798.4 L2031.5,808.5 L2038.0,818.4 L2044.5,828.2 L2051.0,837.8 L2057.5,847.2 L2064.0,856.4 L2070.6,865.5 L2077.1,874.4 L2083.7,883.0 L2090.3,891.5 L2096.8,899.8 L2103.4,907.9 L2110.0,915.8 L2116.6,923.5 L2123.3,931.0 L2129.9,938.3 L2136.6,945.4 L2143.2,952.3 L2149.9,959.0 L2156.6,965.6 L2163.3,971.9 L2170.0,978.1 L2176.7,984.1 L2183.4,989.8 L2190.1,995.4 L2196.9,1000.9 L2203.6,1006.1 L2210.4,1011.2 L2217.2,1016.1 L2224.0,1020.8 L2230.8,1025.3 L2237.6,1029.7 L2244.4,1033.9 L2251.2,1038.0 L2258.1,1041.8 L2264.9,1045.6 L2271.8,1049.1 L2278.7,1052.5 L2285.5,1055.8 L2292.4,1058.9 L2299.3,1061.9 L2306.3,1064.7 L2313.2,1067.3 L2320.1,1069.8 L2327.1,1072.2 L2334.0,1074.4 L2341.0,1076.5 L2348.0,1078.4"/>
<path stroke="#000000" stroke-width="9.7" transform="translate(0.9,0)" d="M333.0,1090.9 L333.0,1090.9 L333.1,1090.9 L333.2,1090.9 L333.3,1090.9 L333.5,1090.9 L333.7,1090.9 L333.9,1090.9 L334.1,1090.9 L334.4,1090.9 L334.6,1090.9 L335.0,1090.9 L335.3,1090.9 L335.6,1090.9 L336.0,1090.9 L336.4,1090.9 L336.8,1090.9 L337.3,1090.9 L337.7,1090.9 L338.2,1090.9 L338.7,1090.8 L339.3,1090.8 L339.8,1090.8 L340.4,1090.8 L341.0,1090.8 L341.6,1090.8 L342.2,1090.8 L342.8,1090.8 L343.5,1090.7 L344.2,1090.7 L344.9,1090.7 L345.6,1090.7 L346.4,1090.6 L347.1,1090.6 L347.9,1090.6 L348.7,1090.6 L349.5,1090.5 L350.4,1090.5 L351.2,1090.4 L352.1,1090.4 L353.0,1090.3 L353.9,1090.3 L354.8,1090.2 L355.8,1090.2 L356.7,1090.1 L357.7,1090.1 L358.7,1090.0 L359.7,1089.9 L360.7,1089.8 L361.8,1089.8 L362.9,1089.7 L363.9,1089.6 L365.0,1089.5 L366.2,1089.4 L367.3,1089.3 L368.5,1089.2 L369.6,1089.1 L370.8,1088.9 L372.0,1088.8 L373.2,1088.7 L374.5,1088.5 L375.7,1088.4 L377.0,1088.2 L378.3,1088.1 L379.6,1087.9 L380.9,1087.8 L382.2,1087.6 L383.6,1087.4 L384.9,1087.2 L386.3,1087.0 L387.7,1086.8 L389.1,1086.6 L390.6,1086.4 L392.0,1086.1 L393.5,1085.9 L395.0,1085.6 L396.5,1085.4 L398.0,1085.1 L399.5,1084.8 L401.0,1084.5 L402.6,1084.2 L404.2,1083.9 L405.8,1083.6 L407.4,1083.3 L409.0,1083.0 L410.6,1082.6 L412.3,1082.2 L413.9,1081.9 L415.6,1081.5 L417.3,1081.1 L419.0,1080.7 L420.8,1080.3 L422.5,1079.8 L424.3,1079.4 L426.0,1078.9 L427.8,1078.5 L429.6,1078.0 L431.4,1077.5 L433.3,1077.0 L435.1,1076.5 L437.0,1075.9 L438.9,1075.4 L440.8,1074.8 L442.7,1074.2 L444.6,1073.6 L446.5,1073.0 L448.5,1072.3 L450.5,1071.7 L452.4,1071.0 L454.4,1070.3 L456.4,1069.6 L458.5,1068.9 L460.5,1068.2 L462.6,1067.4 L464.6,1066.7 L466.7,1065.9 L468.8,1065.0 L470.9,1064.2 L473.1,1063.4 L475.2,1062.5 L477.4,1061.6 L479.6,1060.7 L481.7,1059.7 L483.9,1058.8 L486.2,1057.8 L488.4,1056.8 L490.6,1055.8 L492.9,1054.7 L495.2,1053.6 L497.5,1052.5 L499.8,1051.4 L502.1,1050.3 L504.4,1049.1 L506.7,1047.9 L509.1,1046.7 L511.5,1045.4 L513.9,1044.1 L516.3,1042.8 L518.7,1041.5 L521.1,1040.1 L523.5,1038.7 L526.0,1037.3 L528.5,1035.9 L531.0,1034.4 L533.5,1032.9 L536.0,1031.3 L538.5,1029.7 L541.0,1028.1 L543.6,1026.5 L546.2,1024.8 L548.7,1023.1 L551.3,1021.3 L553.9,1019.5 L556.6,1017.7 L559.2,1015.9 L561.9,1014.0 L564.5,1012.0 L567.2,1010.1 L569.9,1008.1 L572.6,1006.0 L575.3,1003.9 L578.1,1001.8 L580.8,999.6 L583.6,997.4 L586.3,995.1 L589.1,992.8 L591.9,990.5 L594.7,988.1 L597.6,985.7 L600.4,983.2 L603.3,980.7 L606.1,978.1 L609.0,975.5 L611.9,972.8 L614.8,970.1 L617.7,967.3 L620.7,964.5 L623.6,961.6 L626.6,958.7 L629.6,955.7 L632.5,952.7 L635.5,949.6 L638.6,946.4 L641.6,943.2 L644.6,940.0 L647.7,936.7 L650.8,933.3 L653.8,929.8 L656.9,926.3 L660.0,922.8 L663.2,919.2 L666.3,915.5 L669.4,911.8 L672.6,908.0 L675.8,904.1 L679.0,900.2 L682.2,896.2 L685.4,892.1 L688.6,888.0 L691.8,883.8 L695.1,879.5 L698.4,875.2 L701.6,870.8 L704.9,866.3 L708.2,861.8 L711.6,857.2 L714.9,852.5 L718.2,847.7 L721.6,842.9 L725.0,838.0 L728.3,833.1 L731.7,828.0 L735.1,822.9 L738.6,817.7 L742.0,812.5 L745.4,807.2 L748.9,801.8 L752.4,796.3 L755.9,790.8 L759.4,785.2 L762.9,779.5 L766.4,773.8 L769.9,768.0 L773.5,762.1 L777.0,756.2 L780.6,750.2 L784.2,744.1 L787.8,738.0 L791.4,731.8 L795.0,725.5 L798.7,719.2 L802.3,712.8 L806.0,706.4 L809.7,699.9 L813.4,693.3 L817.1,686.7 L820.8,680.1 L824.5,673.4 L828.2,666.7 L832.0,659.9 L835.8,653.0 L839.5,646.2 L843.3,639.3 L847.1,632.3 L850.9,625.3 L854.8,618.3 L858.6,611.3 L862.5,604.3 L866.3,597.2 L870.2,590.1 L874.1,583.0 L878.0,575.8 L881.9,568.7 L885.8,561.6 L889.8,554.4 L893.7,547.3 L897.7,540.1 L901.7,533.0 L905.7,525.9 L909.7,518.8 L913.7,511.7 L917.7,504.6 L921.7,497.5 L925.8,490.5 L929.8,483.4 L933.9,476.5 L938.0,469.5 L942.1,462.6 L946.2,455.7 L950.3,448.9 L954.5,442.1 L958.6,435.3 L962.8,428.6 L967.0,421.9 L971.2,415.3 L975.4,408.8 L979.6,402.3 L983.8,395.9 L988.0,389.5 L992.3,383.2 L996.5,376.9 L1000.8,370.7 L1005.1,364.6 L1009.4,358.6 L1013.7,352.6 L1018.0,346.7 L1022.3,340.9 L1026.7,335.1 L1031.0,329.4 L1035.4,323.8 L1039.8,318.3 L1044.2,312.8 L1048.6,307.4 L1053.0,302.1 L1057.4,296.9 L1061.9,291.8 L1066.3,286.7 L1070.8,281.7 L1075.3,276.8 L1079.8,272.0 L1084.3,267.3 L1088.8,262.6 L1093.3,258.1 L1097.8,253.6 L1102.4,249.1 L1107.0,244.8 L1111.5,240.6 L1116.1,236.4 L1120.7,232.3 L1125.3,228.3 L1129.9,224.4 L1134.6,220.5 L1139.2,216.8 L1143.9,213.1 L1148.5,209.5 L1153.2,206.0 L1157.9,202.5 L1162.6,199.2 L1167.3,195.9 L1172.1,192.7 L1176.8,189.5 L1181.6,186.5 L1186.3,183.5 L1191.1,180.6 L1195.9,177.8 L1200.7,175.0 L1205.5,172.4 L1210.3,169.8 L1215.2,167.2 L1220.0,164.8 L1224.9,162.4 L1229.7,160.1 L1234.6,157.9 L1239.5,155.7 L1244.4,153.7 L1249.3,151.7 L1254.3,149.7 L1259.2,147.9 L1264.2,146.1 L1269.1,144.4 L1274.1,142.7 L1279.1,141.2 L1284.1,139.7 L1289.1,138.2 L1294.1,136.9 L1299.2,135.6 L1304.2,134.4 L1309.3,133.2 L1314.3,132.1 L1319.4,131.1 L1324.5,130.2 L1329.6,129.4 L1334.7,128.6 L1339.9,127.9 L1345.0,127.2 L1350.1,126.6 L1355.3,126.1 L1360.5,125.7 L1365.7,125.4 L1370.9,125.1 L1376.1,124.9 L1381.3,124.7 L1386.5,124.7 L1391.8,124.7 L1397.0,124.8 L1402.3,125.0 L1407.6,125.2 L1412.9,125.5 L1418.2,125.9 L1423.5,126.4 L1428.8,126.9 L1434.2,127.6 L1439.5,128.3 L1444.9,129.1 L1450.2,130.0 L1455.6,130.9 L1461.0,132.0 L1466.4,133.1 L1471.8,134.3 L1477.3,135.7 L1482.7,137.1 L1488.2,138.5 L1493.6,140.1 L1499.1,141.8 L1504.6,143.6 L1510.1,145.4 L1515.6,147.4 L1521.1,149.4 L1526.6,151.6 L1532.2,153.9 L1537.7,156.2 L1543.3,158.7 L1548.9,161.3 L1554.5,164.0 L1560.1,166.8 L1565.7,169.7 L1571.3,172.7 L1576.9,175.9 L1582.6,179.2 L1588.2,182.6 L1593.9,186.1 L1599.6,189.7 L1605.3,193.5 L1611.0,197.4 L1616.7,201.4 L1622.4,205.6 L1628.2,209.9 L1633.9,214.4 L1639.7,219.0 L1645.4,223.8 L1651.2,228.7 L1657.0,233.7 L1662.8,238.9 L1668.6,244.3 L1674.4,249.9 L1680.3,255.6 L1686.1,261.4 L1692.0,267.4 L1697.9,273.7 L1703.8,280.0 L1709.6,286.6 L1715.6,293.3 L1721.5,300.2 L1727.4,307.3 L1733.3,314.6 L1739.3,322.0 L1745.2,329.7 L1751.2,337.5 L1757.2,345.5 L1763.2,353.7 L1769.2,362.1 L1775.2,370.6 L1781.3,379.4 L1787.3,388.3 L1793.3,397.4 L1799.4,406.7 L1805.5,416.2 L1811.6,425.8 L1817.7,435.6 L1823.8,445.6 L1829.9,455.7 L1836.0,466.0 L1842.2,476.4 L1848.3,487.0 L1854.5,497.7 L1860.6,508.5 L1866.8,519.4 L1873.0,530.5 L1879.2,541.6 L1885.4,552.8 L1891.7,564.1 L1897.9,575.5 L1904.2,586.9 L1910.4,598.4 L1916.7,609.9 L1923.0,621.4 L1929.3,632.9 L1935.6,644.4 L1941.9,655.9 L1948.2,667.3 L1954.6,678.7 L1960.9,690.1 L1967.3,701.4 L1973.7,712.6 L1980.0,723.8 L1986.4,734.8 L1992.8,745.7 L1999.3,756.5 L2005.7,767.2 L2012.1,777.7 L2018.6,788.2 L2025.0,798.4 L2031.5,808.5 L2038.0,818.4 L2044.5,828.2 L2051.0,837.8 L2057.5,847.2 L2064.0,856.4 L2070.6,865.5 L2077.1,874.4 L2083.7,883.0 L2090.3,891.5 L2096.8,899.8 L2103.4,907.9 L2110.0,915.8 L2116.6,923.5 L2123.3,931.0 L2129.9,938.3 L2136.6,945.4 L2143.2,952.3 L2149.9,959.0 L2156.6,965.6 L2163.3,971.9 L2170.0,978.1 L2176.7,984.1 L2183.4,989.8 L2190.1,995.4 L2196.9,1000.9 L2203.6,1006.1 L2210.4,1011.2 L2217.2,1016.1 L2224.0,1020.8 L2230.8,1025.3 L2237.6,1029.7 L2244.4,1033.9 L2251.2,1038.0 L2258.1,1041.8 L2264.9,1045.6 L2271.8,1049.1 L2278.7,1052.5 L2285.5,1055.8 L2292.4,1058.9 L2299.3,1061.9 L2306.3,1064.7 L2313.2,1067.3 L2320.1,1069.8 L2327.1,1072.2 L2334.0,1074.4 L2341.0,1076.5 L2348.0,1078.4"/>
</g>
<rect x="1823.0" y="120.0" width="474.0" height="477.0" fill="#ffffff" stroke="#262626" stroke-width="4" shape-rendering="crispEdges"/>
<g fill="none" stroke-width="10" stroke-linecap="butt">
<line x1="1841.0" y1="174.00" x2="2026.0" y2="174.00" stroke="#ff00ff"/>
<line x1="1841.0" y1="266.00" x2="2026.0" y2="266.00" stroke="#7e2f8e" stroke-dasharray="38 36.3"/>
<line x1="1841.0" y1="359.00" x2="2026.0" y2="359.00" stroke="#ff0000" stroke-dasharray="10.3 8.25"/>
<line x1="1841.0" y1="451.00" x2="2026.0" y2="451.00" stroke="#0000ff" stroke-dasharray="38 8.7 19 8.6"/>
<line x1="1841.0" y1="543.00" x2="2026.0" y2="543.00" stroke="#000000"/>
</g>
<g fill="#000000">
<text class="mi" font-size="86.19" transform="translate(2035.69,190.75) scale(0.9956,1)"><tspan x="0" y="0">ψ</tspan><tspan class="mr" font-size="56.20" x="54.29" y="13.25">1</tspan></text>
<text class="mi" font-size="116.75" transform="translate(2129.66,210.86) scale(0.6640,1)">/</text>
<text class="mi" font-size="77.00" transform="translate(2161.80,193.40) scale(1.1400,1)" x="-3.12 31.92 67.84" y="0">rad</text>
<text class="mi" font-size="86.19" transform="translate(2035.69,282.75) scale(0.9956,1)"><tspan x="0" y="0">ψ</tspan><tspan class="mr" font-size="56.03" x="55.42" y="13.25">2</tspan></text>
<text class="mi" font-size="116.75" transform="translate(2129.66,302.86) scale(0.6640,1)">/</text>
<text class="mi" font-size="77.00" transform="translate(2161.80,285.40) scale(1.1400,1)" x="-3.12 31.92 67.84" y="0">rad</text>
<text class="mi" font-size="86.19" transform="translate(2035.69,375.75) scale(0.9956,1)"><tspan x="0" y="0">ψ</tspan><tspan class="mr" font-size="55.96" x="54.88" y="13.20">3</tspan></text>
<text class="mi" font-size="116.75" transform="translate(2129.66,395.86) scale(0.6640,1)">/</text>
<text class="mi" font-size="77.00" transform="translate(2161.80,378.40) scale(1.1400,1)" x="-3.12 31.92 67.84" y="0">rad</text>
<text class="mi" font-size="86.19" transform="translate(2035.69,467.75) scale(0.9956,1)"><tspan x="0" y="0">ψ</tspan><tspan class="mr" font-size="56.37" x="54.92" y="13.25">4</tspan></text>
<text class="mi" font-size="116.75" transform="translate(2129.66,487.86) scale(0.6640,1)">/</text>
<text class="mi" font-size="77.00" transform="translate(2161.80,470.40) scale(1.1400,1)" x="-3.12 31.92 67.84" y="0">rad</text>
<text class="mi" font-size="86.19" transform="translate(2035.69,559.75) scale(0.9956,1)"><tspan x="0" y="0">ψ</tspan><tspan class="mr" font-size="55.72" x="55.19" y="13.21">0</tspan></text>
<text class="mi" font-size="116.75" transform="translate(2129.66,579.86) scale(0.6640,1)">/</text>
<text class="mi" font-size="77.00" transform="translate(2161.80,562.40) scale(1.1400,1)" x="-3.12 31.92 67.84" y="0">rad</text>
</g>
<g class="tk">
<text x="331.5" y="1683" text-anchor="middle">0</text>
<text x="668.5" y="1683" text-anchor="middle">10</text>
<text x="1004.4" y="1683" text-anchor="middle">20</text>
<text x="1340.2" y="1683" text-anchor="middle">30</text>
<text x="1676.0" y="1683" text-anchor="middle">40</text>
<text x="2011.9" y="1683" text-anchor="middle">50</text>
<text x="2347.7" y="1683" text-anchor="middle">60</text>
<text x="301.4" y="1605.0" text-anchor="end">0</text>
<text x="303.3" y="1390.3" text-anchor="end">20</text>
<text x="303.3" y="1175.6" text-anchor="end">40</text>
<text x="303.3" y="960.9" text-anchor="end">60</text>
<text x="303.3" y="746.1" text-anchor="end">80</text>
<text x="304.8" y="531.4" text-anchor="end">100</text>
<text x="304.8" y="316.7" text-anchor="end">120</text>
<text x="304.8" y="102.0" text-anchor="end">140</text>
</g>
<g fill="#262626">
<text class="mi" font-size="106.85" transform="translate(1273.63,1790.16) scale(1.1426,1)">t</text>
<text class="mi" font-size="143.81" transform="translate(1320.68,1812.70) scale(0.6782,1)">/</text>
<text class="mi" font-size="92.32" transform="translate(1362.49,1790.30) scale(1.1624,1)">s</text>
<text class="mi" font-size="107.43" transform="translate(121.5,976) rotate(-90) translate(-6.01,-3.67) scale(0.9394,1)"><tspan x="0" y="0">ψ</tspan><tspan class="mi" font-size="70.10" x="75.23" y="18.17">K</tspan></text>
<text class="mi" font-size="147.70" transform="translate(121.5,976) rotate(-90) translate(131.36,22.76) scale(0.6434,1)">/</text>
<text class="mi" font-size="94.50" transform="translate(121.5,976) rotate(-90) translate(171.10,0.00) scale(1.1000,1)" x="-3.83 38.37 82.68" y="0">rad</text>
</g>
</svg>
</body>
</html>
